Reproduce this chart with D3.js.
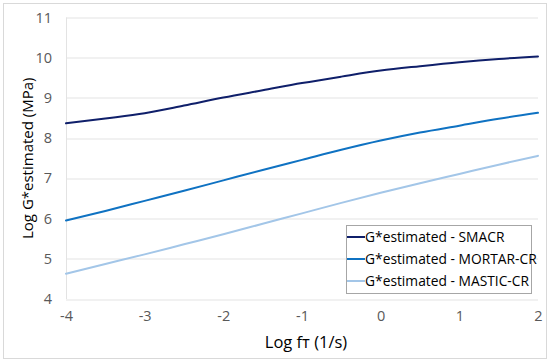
<!DOCTYPE html>
<html>
<head>
<meta charset="utf-8">
<script src="https://cdn.jsdelivr.net/npm/d3@7"></script>
<style>
body { margin: 0; background: #fff; }
text { font-family: "Open Sans", "Liberation Sans", sans-serif; }
</style>
</head>
<body>
<svg class="chart" width="550" height="362"></svg>
<script>
var xTicks = [-4, -3, -2, -1, 0, 1, 2],
	yTicks = [4, 5, 6, 7, 8, 9, 10, 11];
var logF = [-4, -3.5, -3, -2.5, -2, -1.5, -1, -0.5, 0, 0.5, 1, 1.5, 2];
var smacr = [8.37, 8.49, 8.62, 8.81, 9.01, 9.19, 9.37, 9.53, 9.68, 9.79, 9.89, 9.97, 10.03];
var mortar = [5.95, 6.19, 6.44, 6.69, 6.95, 7.21, 7.46, 7.71, 7.94, 8.14, 8.31, 8.48, 8.63];
var mastic = [4.63, 4.87, 5.11, 5.36, 5.61, 5.87, 6.13, 6.39, 6.64, 6.88, 7.11, 7.34, 7.56];
var names = ["G*estimated - SMACR", "G*estimated - MORTAR-CR", "G*estimated - MASTIC-CR"];
var colors = ["#0f1f6a", "#0f72c2", "#a3c6e8"];
var series = [smacr, mortar, mastic];

var svg = d3.select(".chart"),
	margin = {
		top: 17.5,
		right: 12,
		bottom: 63,
		left: 66
	},
	width = +svg.attr("width") - margin.left - margin.right,
	height = +svg.attr("height") - margin.top - margin.bottom;

// outer frame
svg.append("rect")
	.attr("x", 3.5).attr("y", 3.5)
	.attr("width", 543).attr("height", 355)
	.attr("fill", "#fff")
	.attr("stroke", "#d9d9d9");

var g = svg.append("g").attr("transform", "translate(" + margin.left + "," + margin.top + ")");

var x = d3.scaleLinear().domain([-4, 2]).range([0, width]);
var y = d3.scaleLinear().domain([4, 11]).range([height, 0]);

// gridlines
g.selectAll(".grid")
	.data(yTicks)
	.enter().append("line")
	.attr("x1", 0).attr("x2", width)
	.attr("y1", function(d) { return Math.round(y(d)) + 0.5; })
	.attr("y2", function(d) { return Math.round(y(d)) + 0.5; })
	.attr("stroke", "#e3e3e3");
g.append("line")
	.attr("x1", 0.5).attr("x2", 0.5)
	.attr("y1", 0).attr("y2", height)
	.attr("stroke", "#e3e3e3");

// plain hyphen for negatives, like the original
var fmt = function(d) { return String(d); };

var left = g.append("g").call(d3.axisLeft(y).tickValues(yTicks).tickFormat(fmt).tickSize(0).tickPadding(14));
left.select(".domain").remove();
left.selectAll("text")
	.style("fill", "#595959")
	.style("font-size", "14.5px");

var bot = g.append("g")
	.attr("transform", "translate(0," + height + ")")
	.call(d3.axisBottom(x).tickValues(xTicks).tickFormat(fmt).tickSize(0).tickPadding(12));
bot.select(".domain").remove();
bot.selectAll("text")
	.style("fill", "#595959")
	.style("font-size", "14.5px");

var line = d3.line()
	.curve(d3.curveMonotoneX)
	.x(function(d, i) { return x(logF[i]); })
	.y(function(d) { return y(d); });

series.forEach(function(s, k) {
	g.append("path")
		.datum(s)
		.attr("fill", "none")
		.attr("stroke", colors[k])
		.attr("stroke-width", 2)
		.attr("stroke-linecap", "round")
		.attr("d", line);
});

// axis titles
svg.append("text")
	.attr("x", 306).attr("y", 348)
	.attr("text-anchor", "middle")
	.style("font-size", "16.5px")
	.style("fill", "#000")
	.text("Log f\u0442 (1/s)");
svg.append("text")
	.attr("transform", "translate(33," + (margin.top + height / 2) + ") rotate(-90)")
	.attr("text-anchor", "middle")
	.style("font-size", "15px")
	.style("fill", "#000")
	.text("Log G*estimated (MPa)");

// legend
var lg = svg.append("g").attr("transform", "translate(346,225)");
lg.append("rect")
	.attr("x", 0.5).attr("y", 0.5)
	.attr("width", 185).attr("height", 68)
	.attr("fill", "#fff")
	.attr("stroke", "#a6a6a6");
names.forEach(function(n, k) {
	var yy = 12 + k * 22;
	lg.append("line")
		.attr("x1", 1).attr("x2", 19)
		.attr("y1", yy).attr("y2", yy)
		.attr("stroke", colors[k])
		.attr("stroke-width", 2);
	lg.append("text")
		.attr("x", 19).attr("y", yy)
		.attr("dy", "0.35em")
		.style("font-size", "13.8px")
		.style("fill", "#000")
		.text(n);
});
</script>
</body>
</html>
